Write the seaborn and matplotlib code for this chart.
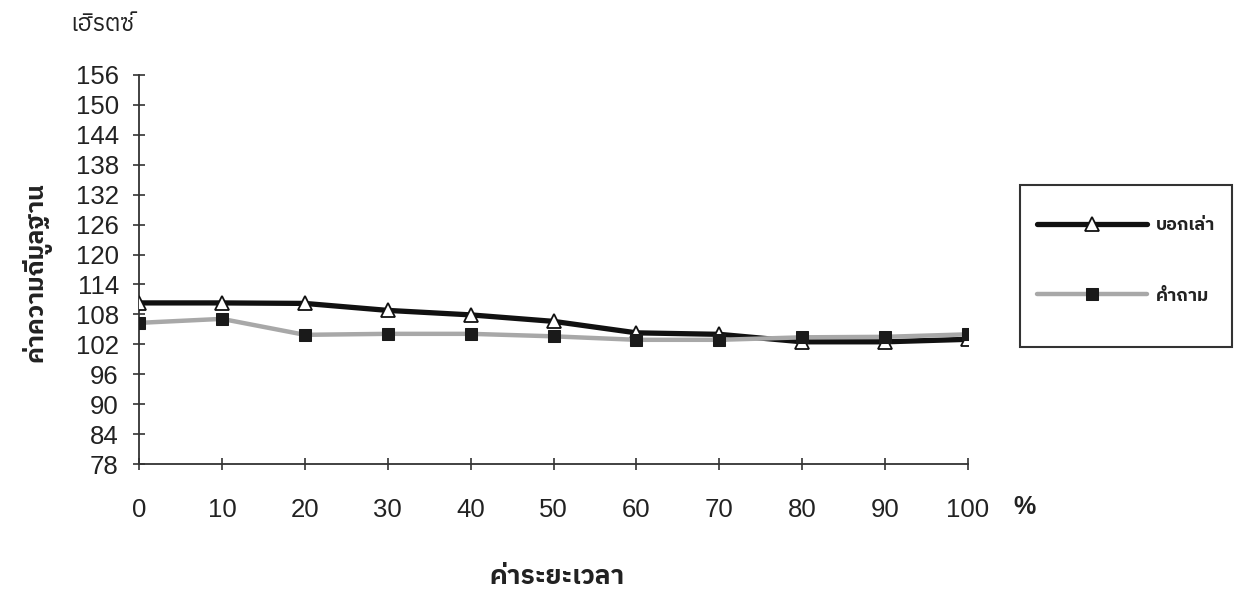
import matplotlib
matplotlib.use("Agg")
import matplotlib.pyplot as plt
from matplotlib.patches import Rectangle
import seaborn as sns
import pandas as pd

# duration (%) and fundamental frequency (Hz)
duration = [0, 10, 20, 30, 40, 50, 60, 70, 80, 90, 100]
statement = [110.3, 110.3, 110.2, 108.8, 107.9, 106.6, 104.3, 104.0, 102.5, 102.5, 103.0]
question = [106.3, 107.1, 103.9, 104.1, 104.1, 103.6, 102.9, 102.9, 103.4, 103.5, 104.0]
y_ticks = list(range(78, 157, 6))
x_ticks = duration

label_statement = "บอกเล่า"
label_question = "คำถาม"

df = pd.DataFrame({"duration": duration, "statement": statement, "question": question})

sns.set_style("white")
FAM = ["Liberation Sans", "IBM Plex Sans Thai", "DejaVu Sans"]
plt.rcParams["font.family"] = FAM

fig = plt.figure(figsize=(12.42, 5.89), dpi=100)
ax = fig.add_axes([139 / 1242, 1 - 464 / 589, (968 - 139) / 1242, (464 - 75) / 589])

sns.lineplot(data=df, x="duration", y="statement", ax=ax, color="#111111", lw=3.8,
             marker="^", markersize=10, markerfacecolor="white", markeredgecolor="#111111",
             markeredgewidth=1.3, label=label_statement, zorder=3)
sns.lineplot(data=df, x="duration", y="question", ax=ax, color="#a8a8a8", lw=3.2,
             marker="s", markersize=8.5, markerfacecolor="#1a1a1a", markeredgecolor="#1a1a1a",
             label=label_question, zorder=4)

ax.set_xlim(0, 100)
ax.set_ylim(78, 156)
ax.set_xticks(x_ticks)
ax.set_yticks(y_ticks)
ax.set_xlabel("")
ax.set_ylabel("")
for s in ["top", "right"]:
    ax.spines[s].set_visible(False)
for s in ["left", "bottom"]:
    ax.spines[s].set_color("#333333")
    ax.spines[s].set_linewidth(1.3)
ax.tick_params(axis="both", direction="inout", length=9, width=1.2, color="#333333",
               labelsize=18.5, labelcolor="#222222", bottom=True, left=True)
ax.tick_params(axis="x", pad=20)
ax.tick_params(axis="y", pad=10)

# legend: frameless entries inside a hand-placed box
box = Rectangle((1020 / 1242, 1 - 347 / 589), 212 / 1242, 162 / 589, transform=fig.transFigure,
                fill=False, edgecolor="#333333", lw=1.5)
fig.patches.append(box)
leg = ax.legend(loc="center left", bbox_to_anchor=(1037 / 1242, 1 - 261 / 589),
                bbox_transform=fig.transFigure, frameon=False, fontsize=13,
                handlelength=6.1, labelspacing=2.95, borderpad=0, handletextpad=0.5,
                borderaxespad=0)
for t in leg.get_texts():
    t.set_color("#222222")
    t.set_fontweight("bold")

fig.text(102 / 1242, 1 - 25 / 589, "เฮิรตซ์", ha="center", va="center", fontsize=17, color="#222222")
fig.text(36 / 1242, 1 - 272 / 589, "ค่าความถี่มูลฐาน", ha="center", va="center", rotation=90,
         fontsize=18, fontweight="bold", color="#222222")
fig.text(1025 / 1242, 1 - 507 / 589, "%", ha="center", va="center", fontsize=18,
         fontweight="bold", color="#222222")
fig.text(557 / 1242, 1 - 577 / 589, "ค่าระยะเวลา", ha="center", va="center", fontsize=19,
         fontweight="bold", color="#222222")

fig.savefig("out.png", dpi=100)
